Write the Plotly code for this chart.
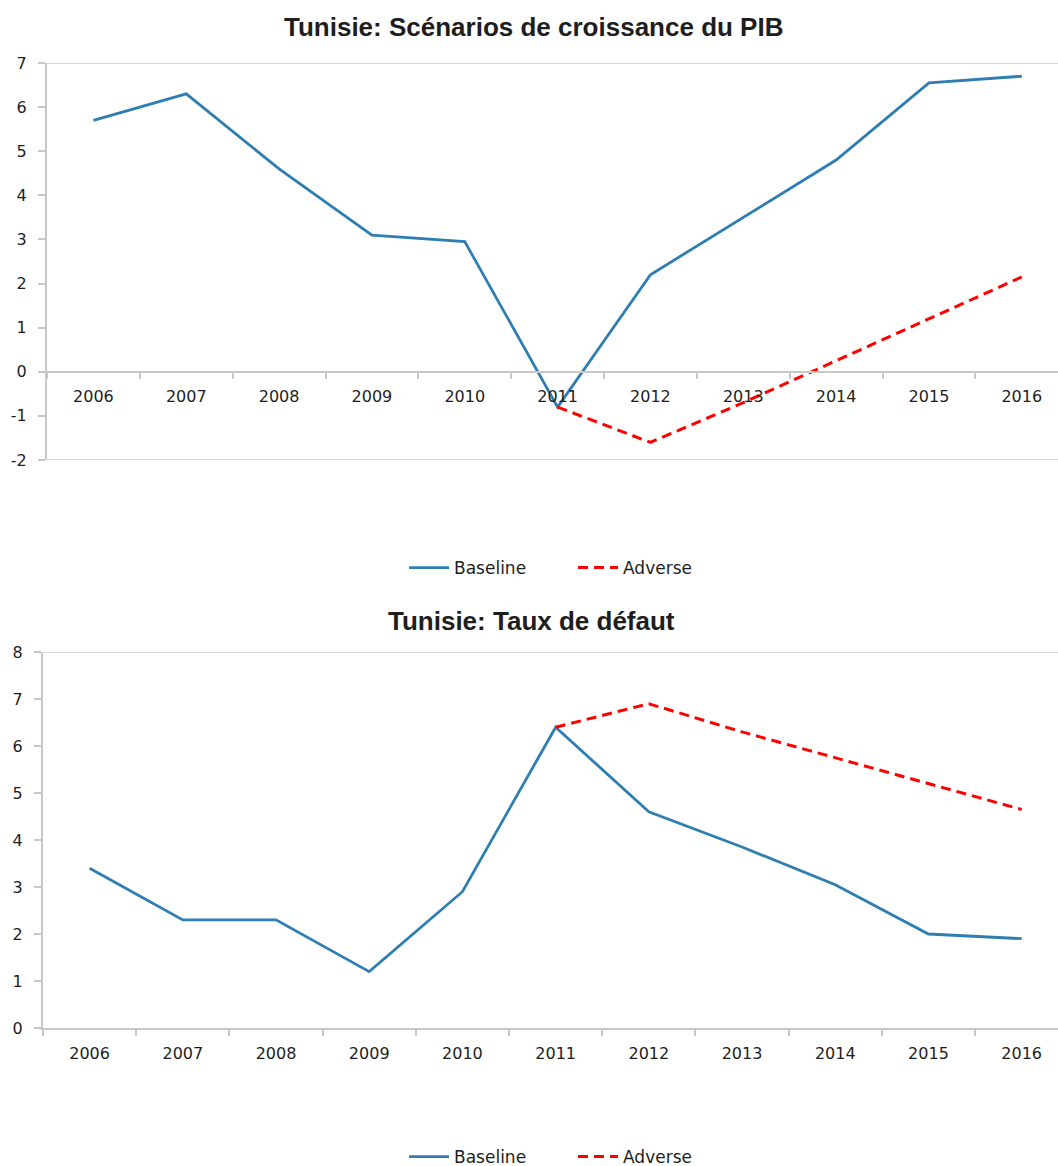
import plotly.graph_objects as go

years = ["2006", "2007", "2008", "2009", "2010", "2011", "2012", "2013", "2014", "2015", "2016"]

# Chart 1: GDP growth scenarios
pib_baseline = [5.7, 6.3, 4.6, 3.1, 2.95, -0.8, 2.2, 3.5, 4.8, 6.55, 6.7]
pib_adverse_years = ["2011", "2012", "2013", "2014", "2015", "2016"]
pib_adverse = [-0.8, -1.6, -0.7, 0.25, 1.2, 2.15]
pib_ticks = [-2, -1, 0, 1, 2, 3, 4, 5, 6, 7]

# Chart 2: default rate
defaut_baseline = [3.4, 2.3, 2.3, 1.2, 2.9, 6.4, 4.6, 3.85, 3.05, 2.0, 1.9]
defaut_adverse_years = ["2011", "2012", "2013", "2014", "2015", "2016"]
defaut_adverse = [6.4, 6.9, 6.3, 5.75, 5.2, 4.65]
defaut_ticks = [0, 1, 2, 3, 4, 5, 6, 7, 8]

title1 = "Tunisie: Scénarios de croissance du PIB"
title2 = "Tunisie: Taux de défaut"
names = ["Baseline", "Adverse"]

W, H = 1058, 1166
BLUE = "#2E7EB2"
RED = "#FF0000"
GRID = "#C8C8C8"
TXT = "#1E1E1E"
TFONT = "Liberation Sans"
FONT = "DejaVu Sans"

def py(px):
    return 1 - px / H

# domains
x1d = [47 / W, 1.0]
y1d = [py(460), py(63)]
x2d = [43 / W, 1.0]
y2d = [py(1028), py(652)]
y1range = [-2, 7]
y2range = [0, 8]
xr = [-0.5, 10.39]
zero_pos = y1d[0] + (0 - y1range[0]) / (y1range[1] - y1range[0]) * (y1d[1] - y1d[0])

fig = go.Figure()
fig.add_trace(go.Scatter(x=years, y=pib_baseline, mode="lines", name=names[0],
                         line=dict(color=BLUE, width=2.8), xaxis="x", yaxis="y", legend="legend"))
fig.add_trace(go.Scatter(x=pib_adverse_years, y=pib_adverse, mode="lines", name=names[1],
                         line=dict(color=RED, width=3, dash="10px,6px"), xaxis="x", yaxis="y", legend="legend"))
fig.add_trace(go.Scatter(x=years, y=defaut_baseline, mode="lines", name=names[0],
                         line=dict(color=BLUE, width=2.8), xaxis="x2", yaxis="y2", legend="legend2"))
fig.add_trace(go.Scatter(x=defaut_adverse_years, y=defaut_adverse, mode="lines", name=names[1],
                         line=dict(color=RED, width=3, dash="10px,6px"), xaxis="x2", yaxis="y2", legend="legend2"))

xcommon = dict(type="category", categoryorder="array", categoryarray=years, range=xr,
               showline=True, linecolor=GRID, linewidth=2, showgrid=False, zeroline=False,
               ticks="outside", ticklen=6, tickcolor=GRID, tickwidth=1.5, tickson="boundaries",
               tickfont=dict(family=FONT, size=16, color=TXT), ticklabelstandoff=10)
ycommon = dict(showline=True, linecolor=GRID, linewidth=2, showgrid=False, zeroline=False,
               ticks="outside", ticklen=7, tickcolor=GRID, tickwidth=1.5,
               tickfont=dict(family=FONT, size=16, color=TXT), ticklabelstandoff=8)

legcommon = dict(orientation="h", x=0.5416, xanchor="center", yanchor="middle",
                 font=dict(family=FONT, size=17, color=TXT), bgcolor="rgba(0,0,0,0)",
                 itemwidth=40, entrywidth=114, entrywidthmode="pixels")

fig.update_layout(
    width=W, height=H, margin=dict(l=0, r=0, t=0, b=0, pad=0, autoexpand=False),
    paper_bgcolor="white", plot_bgcolor="white",
    xaxis=dict(domain=x1d, anchor="free", position=zero_pos, **xcommon),
    yaxis=dict(domain=y1d, range=y1range, anchor="x", tickmode="array", tickvals=pib_ticks,
               ticktext=[str(v) for v in pib_ticks], **ycommon),
    xaxis2=dict(domain=x2d, anchor="y2", **xcommon),
    yaxis2=dict(domain=y2d, range=y2range, anchor="x2", tickmode="array", tickvals=defaut_ticks,
                ticktext=[str(v) for v in defaut_ticks], **ycommon),
    legend=dict(y=py(568), **legcommon),
    legend2=dict(y=py(1157), **legcommon),
    showlegend=True,
)

# plot-area top/bottom border lines
fig.add_shape(type="line", xref="x domain", yref="y", x0=0, x1=1, y0=y1range[1], y1=y1range[1],
              line=dict(color="#D9D9D9", width=2), layer="below")
fig.add_shape(type="line", xref="x domain", yref="y", x0=0, x1=1, y0=y1range[0], y1=y1range[0],
              line=dict(color="#D9D9D9", width=2), layer="below")
fig.add_shape(type="line", xref="x2 domain", yref="y2", x0=0, x1=1, y0=y2range[1], y1=y2range[1],
              line=dict(color="#D9D9D9", width=2), layer="below")

fig.add_annotation(text="<b>" + title1 + "</b>", xref="paper", yref="paper", x=533 / W, y=py(27),
                   xanchor="center", yanchor="middle", showarrow=False,
                   font=dict(family=TFONT, size=26, color=TXT))
fig.add_annotation(text="<b>" + title2 + "</b>", xref="paper", yref="paper", x=531 / W, y=py(621),
                   xanchor="center", yanchor="middle", showarrow=False,
                   font=dict(family=TFONT, size=26, color=TXT))

fig.write_html("out.html", config={"displayModeBar": False},
               post_script="document.body.style.margin='0';document.body.style.padding='0';")
